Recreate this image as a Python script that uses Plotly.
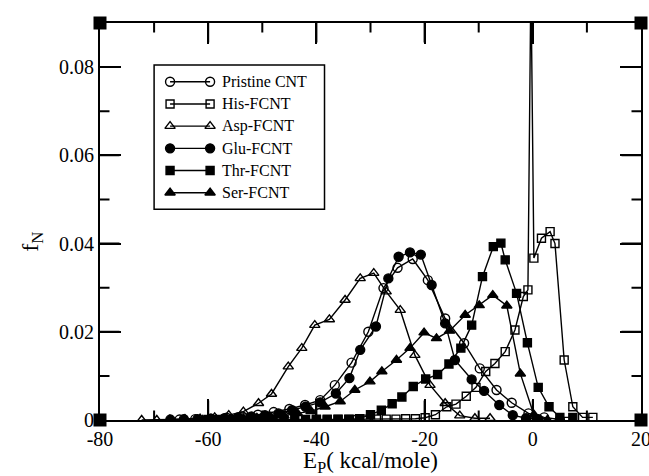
import plotly.graph_objects as go

# ---- axis setup -------------------------------------------------------
x_range = [-80, 20]
y_range = [0, 0.09]
x_tickvals = [-80, -60, -40, -20, 0, 20]
x_ticktext = ["-80", "-60", "-40", "-20", "0", "20"]
x_minorvals = [-70, -50, -30, -10, 10]
y_tickvals = [0, 0.02, 0.04, 0.06, 0.08]
y_ticktext = ["0", "0.02", "0.04", "0.06", "0.08"]
y_minorvals = [0.01, 0.03, 0.05, 0.07, 0.09]

# ---- distributions f_N(E_P) --------------------------------------------
pristine_x = [-65.3, -62.4, -59.5, -56.6, -53.7, -50.8, -47.9, -45.0, -42.1, -39.3,
              -36.6, -33.5, -30.4, -27.6, -25.0, -22.2, -19.4, -16.2, -12.7, -9.8,
              -6.7, -3.9, -0.8, 2.1, 5.0]
pristine_y = [0.0001, 0.0002, 0.0003, 0.0005, 0.0008, 0.0012, 0.0018, 0.0025, 0.0034, 0.0045,
              0.0079, 0.0130, 0.0200, 0.0299, 0.0345, 0.0365, 0.0317, 0.0230, 0.0174, 0.0117,
              0.0068, 0.0039, 0.0015, 0.0006, 0.0001]

his_x = [-40.0, -38.0, -36.0, -34.0, -32.4, -30.7, -28.9, -27.1, -25.3, -23.5,
         -21.7, -19.9, -18.0, -15.9, -14.2, -12.3, -10.5, -8.7, -7.0, -5.1,
         -3.3, -1.75, -0.9, -0.35, 0.2, 1.6, 3.2, 4.1, 5.8, 7.4, 9.2, 11.1]
his_y = [0.0, 0.0, 0.0001, 0.0001, 0.0001, 0.0002, 0.0002, 0.0002, 0.0002, 0.0003,
         0.0003, 0.0005, 0.0012, 0.0030, 0.0036, 0.0054, 0.0074, 0.0110, 0.0128, 0.0155,
         0.0204, 0.0280, 0.0295, 0.1000, 0.0367, 0.0412, 0.0427, 0.0400, 0.0136, 0.0030,
         0.0006, 0.0006]

asp_x = [-72.3, -69.5, -67.1, -64.3, -61.5, -58.8, -56.2, -53.5, -50.7, -48.3,
         -45.2, -42.7, -40.3, -37.6, -34.7, -31.9, -29.4, -27.1, -24.5, -21.8,
         -19.0, -16.2, -13.5, -10.7, -7.9]
asp_y = [0.0, 0.0, 0.0001, 0.0002, 0.0003, 0.0006, 0.0011, 0.0019, 0.0038, 0.0059,
         0.0121, 0.0163, 0.0215, 0.0228, 0.0272, 0.0321, 0.0333, 0.0291, 0.0249, 0.0147,
         0.0079, 0.0038, 0.0010, 0.0004, 0.0004]

glu_x = [-67.0, -64.5, -62.0, -59.5, -57.0, -54.5, -52.0, -49.5, -47.0, -44.5,
         -42.0, -39.3, -36.4, -33.9, -31.9, -29.0, -26.7, -24.8, -22.7, -20.7,
         -18.7, -16.2, -14.4, -11.3, -9.0, -6.2, -3.7, -1.25, 1.0]
glu_y = [0.0001, 0.0002, 0.0002, 0.0003, 0.0004, 0.0006, 0.0008, 0.0011, 0.0015, 0.0022,
         0.0030, 0.0040, 0.0060, 0.0095, 0.0159, 0.0212, 0.0321, 0.0370, 0.0380, 0.0375,
         0.0306, 0.0219, 0.0136, 0.0092, 0.0066, 0.0034, 0.0011, 0.0004, 0.0002]

thr_x = [-60.0, -58.0, -56.0, -54.0, -52.0, -50.0, -48.0, -46.0, -44.0, -42.0,
         -40.0, -38.0, -36.0, -34.0, -32.0, -30.0, -28.0, -26.0, -24.2, -22.1,
         -19.8, -17.6, -15.5, -13.3, -11.3, -9.3, -7.3, -5.9, -5.1, -3.0,
         -1.0, 1.0, 3.0, 5.0, 7.4]
thr_y = [0.0001, 0.0001, 0.0001, 0.0001, 0.0001, 0.0001, 0.0001, 0.0001, 0.0001, 0.0001,
         0.0002, 0.0002, 0.0002, 0.0002, 0.0003, 0.0012, 0.0022, 0.0037, 0.0052, 0.0076,
         0.0093, 0.0103, 0.0127, 0.0163, 0.0215, 0.0325, 0.0393, 0.0401, 0.0363, 0.0287,
         0.0175, 0.0074, 0.0030, 0.0006, 0.0006]

ser_x = [-61.0, -58.5, -56.0, -53.5, -51.0, -48.5, -46.0, -43.5, -41.0, -38.4,
         -35.6, -32.9, -30.1, -27.9, -25.2, -22.7, -20.1, -17.8, -15.4, -12.5,
         -9.9, -7.4, -4.8, -2.3, 0.2, 2.7]
ser_y = [0.0, 0.0001, 0.0002, 0.0003, 0.0005, 0.0007, 0.0010, 0.0015, 0.0020, 0.0030,
         0.0042, 0.0068, 0.0087, 0.0110, 0.0136, 0.0163, 0.0198, 0.0185, 0.0202, 0.0238,
         0.0260, 0.0283, 0.0259, 0.0105, 0.0012, 0.0]

series_names = ["Pristine CNT", "His-FCNT", "Asp-FCNT", "Glu-FCNT", "Thr-FCNT", "Ser-FCNT"]
series_x = [pristine_x, his_x, asp_x, glu_x, thr_x, ser_x]
series_y = [pristine_y, his_y, asp_y, glu_y, thr_y, ser_y]
symbols = ["circle-open", "square-open", "triangle-up-open", "circle", "square", "triangle-up"]
sizes = [9, 8, 9, 9, 8, 9]

FONT = "Liberation Serif"
WIDTH, HEIGHT = 649, 476
MARGIN = dict(l=100, r=8, t=23, b=56)
PLOT_W = WIDTH - MARGIN["l"] - MARGIN["r"]
PLOT_H = HEIGHT - MARGIN["t"] - MARGIN["b"]
MAJOR_LEN, MINOR_LEN = 21, 11          # tick lengths in pixels
x_per_px = (x_range[1] - x_range[0]) / PLOT_W
y_per_px = (y_range[1] - y_range[0]) / PLOT_H

fig = go.Figure()

for name, xs, ys, sym, sz in zip(series_names, series_x, series_y, symbols, sizes):
    fig.add_trace(go.Scatter(
        x=xs, y=ys, mode="lines+markers", name=name, showlegend=False,
        line=dict(color="black", width=1.4),
        marker=dict(symbol=sym, size=sz, color="black", line=dict(color="black", width=1.4)),
    ))


# ---- inward tick marks on all four sides ---------------------------------
# each tick is a bare arrow line (no head) whose tail sits `length` px inside
def add_tick(x, y, ax, ay):
    fig.add_annotation(x=x, y=y, xref="x", yref="y", text="", showarrow=True,
                       arrowhead=0, arrowwidth=2, arrowcolor="black",
                       ax=ax, ay=ay, standoff=0, startstandoff=0)


for vals, length in ((x_tickvals, MAJOR_LEN), (x_minorvals, MINOR_LEN)):
    for v in vals:
        if v in x_range:
            continue
        add_tick(v, y_range[0], 0, -length)
        add_tick(v, y_range[1], 0, length)
for vals, length in ((y_tickvals, MAJOR_LEN), (y_minorvals, MINOR_LEN)):
    for v in vals:
        if v in y_range:
            continue
        add_tick(x_range[0], v, length, 0)
        add_tick(x_range[1], v, -length, 0)

# filled squares sitting on the four frame corners
fig.add_trace(go.Scatter(
    x=[x_range[0], x_range[1], x_range[0], x_range[1]],
    y=[y_range[0], y_range[0], y_range[1], y_range[1]],
    mode="markers", showlegend=False, cliponaxis=False, hoverinfo="skip",
    marker=dict(symbol="square", size=13, color="black"),
))


# ---- legend box, laid out in fractions of the plotting area ------------
def fx(p):
    return x_range[0] + p * (x_range[1] - x_range[0])


def fy(p):
    return y_range[0] + p * (y_range[1] - y_range[0])


L_LEFT, L_RIGHT, L_TOP, L_BOTTOM = 0.100, 0.415, 0.894, 0.531
row_y0, row_dy = 0.852, 0.0559
mark_x0, mark_x1, text_x = 0.1295, 0.2035, 0.222

fig.add_shape(type="rect", xref="paper", yref="paper",
              x0=L_LEFT, x1=L_RIGHT, y0=L_BOTTOM, y1=L_TOP,
              line=dict(color="black", width=1.5), fillcolor="white", layer="below")
for i, (name, sym, sz) in enumerate(zip(series_names, symbols, sizes)):
    ry = row_y0 - i * row_dy
    fig.add_trace(go.Scatter(
        x=[fx(mark_x0), fx(mark_x1)], y=[fy(ry), fy(ry)],
        mode="lines+markers", showlegend=False, hoverinfo="skip",
        line=dict(color="black", width=1.4),
        marker=dict(symbol=sym, size=sz, color="black", line=dict(color="black", width=1.4)),
    ))
    fig.add_annotation(x=text_x, y=ry, xref="paper", yref="paper", text=name,
                       showarrow=False, xanchor="left", yanchor="middle",
                       font=dict(family=FONT, size=16, color="black"))

# y-axis title placed beside the axis, a little below mid-height
fig.add_annotation(x=-0.125, y=0.45, xref="paper", yref="paper",
                   text="f<sub>N</sub>", textangle=-90, showarrow=False,
                   xanchor="center", yanchor="middle",
                   font=dict(family=FONT, size=24, color="black"))

fig.update_layout(
    width=WIDTH, height=HEIGHT,
    margin=MARGIN,
    paper_bgcolor="white", plot_bgcolor="rgba(0,0,0,0)",
    xaxis=dict(range=x_range, tickmode="array", tickvals=x_tickvals, ticktext=x_ticktext,
               showline=True, linecolor="black", linewidth=2, mirror="ticks", automargin=False,
               ticks="inside", ticklen=MAJOR_LEN, tickwidth=2, tickcolor="black",
               showgrid=False, zeroline=False, ticklabeloverflow="allow",
               tickfont=dict(family=FONT, size=20, color="black"),
               title=dict(text="E<sub>P</sub>( kcal/mole)", standoff=2,
                          font=dict(family=FONT, size=23, color="black"))),
    yaxis=dict(range=y_range, tickmode="array", tickvals=y_tickvals, ticktext=y_ticktext,
               showline=True, linecolor="black", linewidth=2, mirror="ticks", automargin=False,
               ticks="inside", ticklen=MAJOR_LEN, tickwidth=2, tickcolor="black",
               showgrid=False, zeroline=False,
               tickfont=dict(family=FONT, size=20, color="black")),
)

fig.write_html("out.html")
